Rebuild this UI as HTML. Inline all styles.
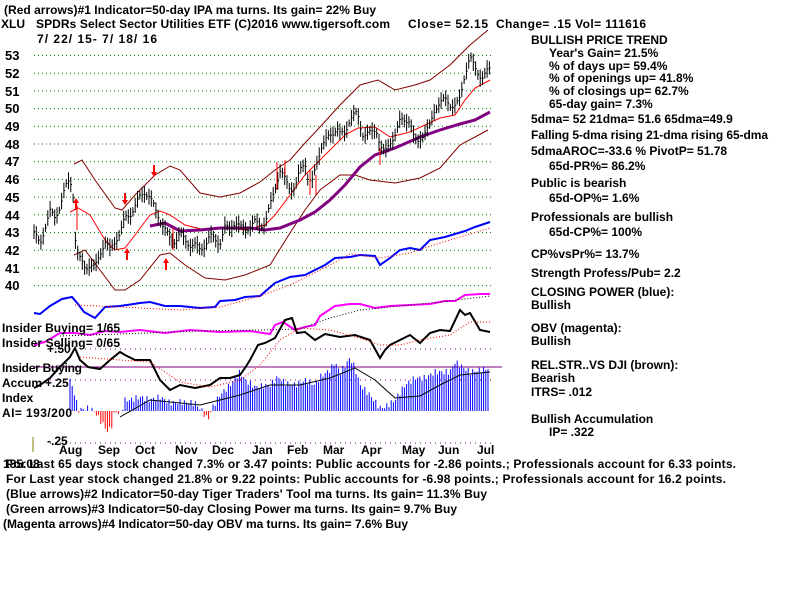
<!DOCTYPE html>
<html><head><meta charset="utf-8">
<style>
html,body{margin:0;padding:0;background:#fff;}
svg{display:block;}
text{font-family:"Liberation Sans",Arial,sans-serif;font-weight:bold;font-size:12px;fill:#000;}
</style></head>
<body>
<svg id="s" width="800" height="600" xmlns="http://www.w3.org/2000/svg">
<text x="4" y="14" textLength="372">(Red arrows)#1 Indicator=50-day IPA ma turns. Its gain= 22% Buy</text>
<text x="1" y="28">XLU</text>
<text x="36" y="28" textLength="354">SPDRs Select Sector Utilities ETF  (C)2016 www.tigersoft.com</text>
<text x="408" y="28" textLength="80">Close=  52.15</text>
<text x="496" y="28" textLength="150">Change= .15 Vol= 111616</text>
<text x="37" y="43" textLength="120">7/ 22/ 15- 7/ 18/ 16</text>
<g id="grid"></g>
<g id="lines"></g>
<g>
<text x="5" y="60" style="font-size:13px">53</text><text x="5" y="78" style="font-size:13px">52</text>
<text x="5" y="96" style="font-size:13px">51</text><text x="5" y="113" style="font-size:13px">50</text>
<text x="5" y="131" style="font-size:13px">49</text><text x="5" y="149" style="font-size:13px">48</text>
<text x="5" y="166" style="font-size:13px">47</text><text x="5" y="184" style="font-size:13px">46</text>
<text x="5" y="202" style="font-size:13px">45</text><text x="5" y="220" style="font-size:13px">44</text>
<text x="5" y="237" style="font-size:13px">43</text><text x="5" y="255" style="font-size:13px">42</text>
<text x="5" y="273" style="font-size:13px">41</text><text x="5" y="290" style="font-size:13px">40</text>
</g>
<text x="2" y="332" textLength="118">Insider Buying= 1/65</text>
<text x="2" y="347" textLength="118">Insider Selling= 0/65</text>
<text x="47" y="353">+.50</text>
<text x="2" y="372" textLength="80">Insider Buying</text>
<text x="2" y="387">Accum</text><text x="45" y="387">+.25</text>
<text x="2" y="402">Index</text>
<text x="2" y="417" textLength="70">AI= 193/200</text>
<text x="47" y="445">-.25</text>
<line x1="33" y1="437" x2="33" y2="452" stroke="#808000" stroke-width="1"/>
<g>
<text x="59" y="454">Aug</text><text x="98" y="454">Sep</text><text x="135" y="454">Oct</text>
<text x="175" y="454">Nov</text><text x="212" y="454">Dec</text><text x="252" y="454">Jan</text>
<text x="287" y="454">Feb</text><text x="323" y="454">Mar</text><text x="361" y="454">Apr</text>
<text x="402" y="454">May</text><text x="438" y="454">Jun</text><text x="477" y="454">Jul</text>
</g>
<text x="3" y="468">185.08</text>
<text x="6" y="468" textLength="730">For Last 65 days stock changed  7.3% or  3.47 points:  Public accounts for -2.86 points.;  Professionals account for  6.33 points.</text>
<text x="6" y="483" textLength="720">For Last year stock changed  21.8% or  9.22 points:  Public accounts for -6.98 points.;  Professionals account for  16.2 points.</text>
<text x="6" y="498" textLength="481">(Blue arrows)#2 Indicator=50-day Tiger Traders' Tool ma turns. Its gain= 11.3% Buy</text>
<text x="6" y="513" textLength="451">(Green arrows)#3 Indicator=50-day Closing Power ma turns. Its gain= 9.7% Buy</text>
<text x="3" y="528" textLength="405">(Magenta arrows)#4 Indicator=50-day OBV ma turns. Its gain= 7.6% Buy</text>
<g>
<text x="531" y="44">BULLISH PRICE TREND</text>
<text x="549" y="57">Year's Gain= 21.5%</text>
<text x="549" y="70">% of days up= 59.4%</text>
<text x="549" y="82">% of openings up= 41.8%</text>
<text x="549" y="95">% of closings up= 62.7%</text>
<text x="549" y="108">65-day gain= 7.3%</text>
<text x="531" y="123">5dma= 52 21dma= 51.6 65dma=49.9</text>
<text x="531" y="139" textLength="237">Falling 5-dma rising 21-dma rising 65-dma</text>
<text x="531" y="155">5dmaAROC=-33.6 %  PivotP= 51.78</text>
<text x="549" y="170">65d-PR%= 86.2%</text>
<text x="531" y="187">Public is bearish</text>
<text x="549" y="202">65d-OP%= 1.6%</text>
<text x="531" y="221">Professionals are bullish</text>
<text x="549" y="236">65d-CP%= 100%</text>
<text x="531" y="258">CP%vsPr%=  13.7%</text>
<text x="531" y="277">Strength Profess/Pub= 2.2</text>
<text x="531" y="296">CLOSING POWER (blue):</text>
<text x="531" y="309">Bullish</text>
<text x="531" y="332">OBV (magenta):</text>
<text x="531" y="345">Bullish</text>
<text x="531" y="369">REL.STR..VS DJI (brown):</text>
<text x="531" y="382">Bearish</text>
<text x="531" y="396">ITRS= .012</text>
<text x="531" y="423">Bullish Accumulation</text>
<text x="549" y="436">IP=  .322</text>
</g>
</svg>
<script>
var NS="http://www.w3.org/2000/svg";
var G=document.getElementById("lines"),GR=document.getElementById("grid");
function el(p,t,a){var e=document.createElementNS(NS,t);for(var k in a)e.setAttribute(k,a[k]);p.appendChild(e);return e;}
function pl(pts,c,w,d){var s=pts.map(function(p){return p[0]+","+p[1]}).join(" ");var a={points:s,fill:"none",stroke:c,"stroke-width":w};if(d)a["stroke-dasharray"]=d;el(G,"polyline",a);}
function interp(pts,x){for(var i=0;i<pts.length-1;i++){if(x>=pts[i][0]&&x<=pts[i+1][0]){var t=(x-pts[i][0])/(pts[i+1][0]-pts[i][0]||1);return pts[i][1]+t*(pts[i+1][1]-pts[i][1]);}}return pts[pts.length-1][1];}
for(var i=0;i<14;i++){var y=55.5+i*17.7;el(GR,"line",{x1:34,x2:492,y1:y,y2:y,stroke:"#008000","stroke-dasharray":"1,3","stroke-width":1});}
[349,380,443].forEach(function(y){el(GR,"line",{x1:50,x2:492,y1:y,y2:y,stroke:"#800080","stroke-dasharray":"1,4","stroke-width":1});});
el(GR,"line",{x1:34,x2:502,y1:367,y2:367,stroke:"#800080","stroke-width":1});
function py(p){return 55.5+(53-p)*17.7;}
var acc=[[70,380],[75,395],[78,410],[90,408],[95,412],[100,420],[108,432],[112,425],[115,410],[120,415],[125,400],[130,400],[140,397],[150,400],[160,397],[170,403],[180,402],[195,403],[203,412],[208,420],[212,408],[220,395],[230,385],[240,372],[245,380],[255,387],[270,385],[278,377],[285,383],[295,385],[305,380],[315,385],[320,377],[330,370],[335,362],[340,373],[350,358],[355,368],[360,385],[370,395],[380,408],[385,407],[395,400],[405,385],[415,378],[425,378],[435,372],[450,372],[455,362],[470,372],[490,368]];
for(var x=70;x<=490;x+=2.2){var y=interp(acc,x)+Math.sin(x*1.7)*3;var c=y>411?"#ff0000":"#0000ff";el(G,"line",{x1:x.toFixed(1),x2:x.toFixed(1),y1:411,y2:y.toFixed(1),stroke:c,"stroke-width":1});}
pl([[120,417],[150,400],[200,405],[240,395],[270,385],[300,385],[330,378],[355,368],[375,380],[395,398],[420,396],[440,385],[460,375],[490,372]],"#000",1);
pl([[74,164],[82,160],[95,180],[115,208],[122,210],[135,195],[155,175],[170,166],[180,170],[200,193],[220,197],[240,193],[260,182],[275,170],[290,160],[305,143],[320,127],[340,105],[360,85],[378,80],[395,90],[415,85],[430,80],[450,65],[470,45],[488,30]],"#800000",1);
pl([[74,255],[85,250],[100,270],[115,290],[125,290],[140,280],[160,255],[170,253],[185,265],[205,278],[225,280],[245,275],[270,265],[290,233],[305,210],[320,190],[340,175],[355,175],[370,180],[395,183],[420,178],[440,168],[460,145],[488,130]],"#800000",1);
pl([[70,212],[78,208],[90,215],[105,240],[115,250],[125,248],[135,235],[150,215],[160,211],[170,215],[185,225],[205,230],[225,228],[245,230],[265,225],[275,215],[290,195],[305,175],[315,165],[330,150],[345,135],[358,128],[375,127],[390,137],[410,132],[425,125],[440,118],[455,115],[465,100],[475,88],[490,80]],"#ff0000",1);
pl([[150,226],[165,223],[180,231],[200,230],[220,228],[250,228],[265,230],[280,228],[300,220],[315,212],[330,200],[345,185],[360,167],[375,155],[395,148],[420,137],[440,130],[460,124],[475,120],[490,112]],"#800080",3);
var pr=[[34,43],[40,42.3],[45,43.3],[50,44.2],[55,43.8],[60,44.5],[65,45.5],[70,46],[73,45.2],[76,42],[80,41.5],[85,41],[90,41.2],[95,41],[100,41.8],[105,42.5],[110,42],[115,42.5],[120,43],[125,43.8],[130,44],[135,44.5],[140,45],[145,45.3],[150,45],[155,44.3],[160,43.7],[165,43.2],[170,42.6],[175,42.5],[180,43],[185,42.5],[190,42.3],[195,42.3],[200,42],[205,42.3],[210,42.8],[215,42.6],[220,42.4],[225,43.3],[230,43.2],[235,43.6],[240,43.3],[245,43.2],[250,43.3],[255,43.6],[260,43.4],[265,43.5],[270,44.5],[275,45.5],[280,46.5],[285,46],[290,45.5],[295,45.5],[300,46.5],[305,47],[308,46],[312,45.8],[318,47.2],[322,48],[327,48.3],[332,48.5],[337,49],[340,48.6],[345,48.5],[350,49.5],[355,49.8],[358,49.5],[362,48.5],[367,48.7],[372,48.6],[377,48.7],[380,48],[385,47.5],[390,48],[395,48.6],[400,49.3],[405,49.3],[410,49.4],[413,48.5],[417,48],[420,48.3],[425,48.7],[430,49],[435,50],[440,50.4],[445,50.5],[450,50.2],[455,50.2],[460,50.5],[465,52],[470,53],[473,52.5],[477,52],[482,51.8],[487,52.1],[490,52.2]];
for(var x=34;x<=490;x+=2.3){var p=interp(pr,x)+Math.sin(x*2.3)*0.15;var r=0.2+Math.abs(Math.sin(x*0.9))*0.3;
el(G,"line",{x1:x.toFixed(1),x2:x.toFixed(1),y1:py(p+r).toFixed(1),y2:py(p-r).toFixed(1),stroke:"#000","stroke-width":1});
el(G,"line",{x1:x.toFixed(1),x2:(x+1.3).toFixed(1),y1:py(p).toFixed(1),y2:py(p).toFixed(1),stroke:"#000","stroke-width":1});}
[[77,205,230],[173,228,250],[277,162,190],[285,160,175],[310,170,195],[316,175,195],[380,148,165]].forEach(function(a){el(G,"line",{x1:a[0],x2:a[0],y1:a[1],y2:a[2],stroke:"#f00","stroke-width":1});});
function arr(x,y,up){var d=up?("M"+x+","+y+" l-3,5 h2 v7 h2 v-7 h2 z"):("M"+x+","+y+" l-3,-5 h2 v-7 h2 v7 h2 z");el(G,"path",{d:d,fill:"#f00"});}
arr(125,205,false);arr(127,248,true);arr(154,177,false);arr(166,258,true);arr(76,198,true);
pl([[34,313],[40,314],[50,306],[62,299],[72,297],[78,304],[84,312],[95,318],[105,307],[120,306],[140,303],[150,302],[165,306],[180,306],[200,308],[215,307],[220,301],[235,300],[245,297],[260,296],[275,283],[290,277],[305,275],[315,270],[325,265],[335,258],[350,257],[360,255],[375,256],[380,265],[390,258],[400,250],[410,248],[420,250],[430,240],[445,237],[455,234],[465,231],[475,227],[490,222]],"#0000ff",2);
pl([[75,305],[120,307],[180,310],[220,307],[260,296],[290,285],[330,265],[350,254],[380,258],[410,253],[440,243],[490,228]],"#f00",1,"1,2");
pl([[34,345],[45,342],[60,333],[75,333],[90,335],[105,331],[120,332],[140,330],[165,333],[190,330],[220,332],[250,331],[270,334],[275,325],[283,322],[295,330],[305,327],[315,325],[320,316],[335,306],[350,304],[360,304],[375,308],[390,306],[410,305],[430,304],[445,301],[455,301],[465,295],[480,294],[490,294]],"#ff00ff",2);
pl([[60,336],[120,334],[200,331],[260,330],[300,329],[330,318],[360,310],[400,306],[440,302],[490,296]],"#000",1,"1,2");
pl([[34,388],[40,385],[50,378],[60,367],[70,357],[75,348],[80,360],[88,367],[100,369],[110,360],[120,352],[125,355],[135,360],[150,360],[160,380],[170,390],[180,385],[195,388],[210,385],[220,378],[230,378],[240,375],[245,368],[250,360],[258,345],[265,343],[275,338],[285,320],[292,318],[297,333],[305,332],[315,340],[325,334],[340,337],[355,335],[370,340],[380,358],[385,350],[390,345],[400,340],[410,335],[420,343],[430,333],[440,330],[450,331],[460,310],[465,315],[470,313],[480,330],[490,332]],"#000",2);
pl([[80,357],[120,360],[150,362],[180,382],[210,387],[240,380],[260,365],[280,340],[300,328],[330,330],[360,338],[380,345],[400,345],[420,340],[450,335],[470,322],[490,322]],"#f00",1,"1,2");
</script>
</body></html>
